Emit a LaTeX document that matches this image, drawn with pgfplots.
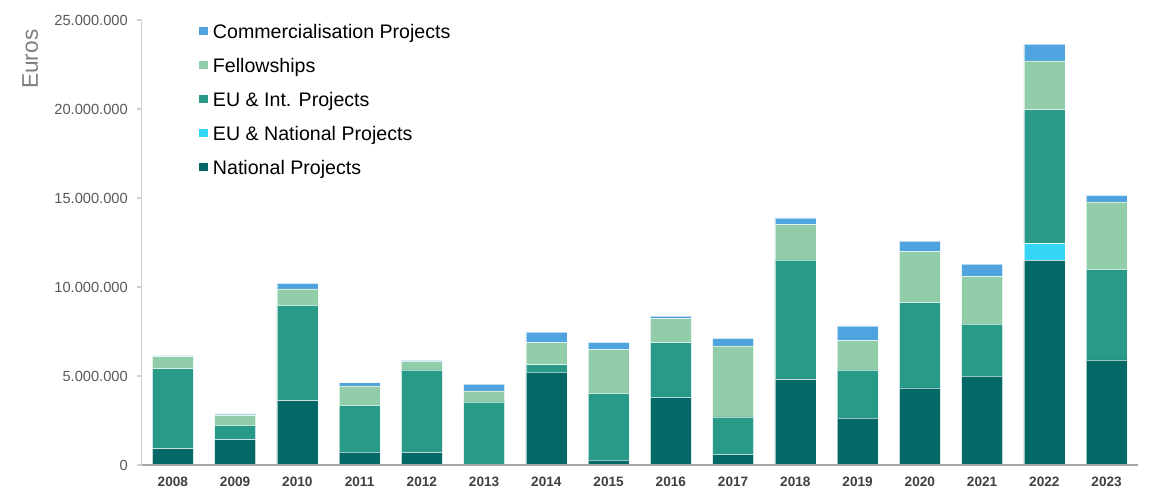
\documentclass[border=0pt]{standalone}
\usepackage{fontspec}
\setmainfont{Liberation Sans}
\usepackage{pgfplots}
\pgfplotsset{compat=1.18}
\usepackage{pgfplotstable}

\definecolor{natc}{HTML}{046866}
\definecolor{eunatc}{HTML}{35D5F5}
\definecolor{euintc}{HTML}{2A9A88}
\definecolor{fellc}{HTML}{92CDA9}
\definecolor{commc}{HTML}{4FA3DE}
\definecolor{ticktext}{HTML}{595959}
\definecolor{yeartext}{HTML}{404040}

% Funding per year (euros), by programme
\pgfplotstableread{
idx year nat      eunat  euint   fell    comm
0   2008 920000   0      4490000 670000  60000
1   2009 1420000  0      810000  540000  100000
2   2010 3610000  0      5360000 920000  320000
3   2011 730000   0      2620000 1090000 180000
4   2012 710000   0      4630000 460000  80000
5   2013 0        0      3540000 620000  390000
6   2014 5220000  0      410000  1240000 590000
7   2015 280000   0      3750000 2470000 390000
8   2016 3800000  0      3070000 1350000 150000
9   2017 600000   0      2100000 3990000 430000
10  2018 4790000  0      6730000 1980000 380000
11  2019 2640000  0      2700000 1640000 830000
12  2020 4330000  0      4790000 2860000 600000
13  2021 5000000  0      2920000 2680000 680000
14  2022 11500000 930000 7530000 2740000 950000
15  2023 5900000  0      5090000 3790000 370000
}\funding

\pgfplotsset{
  sqlegend/.style={legend image code/.code={\fill[##1,draw=none] (0pt,-1pt) rectangle (6.75pt,5pt);}},
  seg/.style={fill=#1, draw=white, draw opacity=0.6, line width=0.5pt, sqlegend},
}

\begin{document}
\begin{tikzpicture}
\useasboundingbox (0,0) rectangle (870.75pt,367.5pt);
\begin{axis}[
  at={(106.3pt,18.75pt)}, anchor=south west,
  scale only axis, width=747pt, height=333.75pt,
  ybar stacked, bar width=30.75pt,
  xmin=-0.5, xmax=15.5, ymin=0, ymax=25000000,
  axis on top,
  axis x line=bottom, axis y line=left,
  axis line style={-},
  x axis line style={draw=black!35, line width=0.8pt},
  y axis line style={draw=black!18, line width=0.8pt},
  xtick=data, xticklabels from table={\funding}{year},
  major x tick style={draw=none},
  xticklabel style={font=\fontsize{10.2}{12}\selectfont\bfseries, text=yeartext, yshift=-2pt},
  ytick={0,5000000,10000000,15000000,20000000,25000000},
  scaled y ticks=false,
  /pgf/number format/fixed,
  /pgf/number format/1000 sep={.},
  /pgf/number format/assume math mode=true,
  tick align=outside,
  major tick length=3.75pt,
  major y tick style={draw=black!18, line width=0.8pt},
  yticklabel style={font=\fontsize{11}{13}\selectfont, text=ticktext, inner sep=0pt, xshift=-6.5pt},
  ylabel={Euros},
  ylabel style={at={(axis description cs:-0.1121,0.912)}, anchor=center,
    font=\fontsize{17}{20}\selectfont, text=black!50},
  reverse legend,
  legend cell align=left,
  legend style={at={(axis description cs:0.0575,0.9905)}, anchor=north west,
    draw=none, fill=none, inner sep=0pt, outer sep=0pt,
    font=\fontsize{14.7}{17}\selectfont,
    row sep=11.5pt, column sep=3.75pt,
    nodes={inner sep=0pt, text height=11pt, text depth=3pt}},
]
\addplot[seg=natc]   table[x=idx, y=nat]   {\funding};
\addplot[seg=eunatc] table[x=idx, y=eunat] {\funding};
\addplot[seg=euintc] table[x=idx, y=euint] {\funding};
\addplot[seg=fellc]  table[x=idx, y=fell]  {\funding};
\addplot[seg=commc]  table[x=idx, y=comm]  {\funding};
\legend{National Projects, EU \& National Projects, EU \& Int. Projects, Fellowships, Commercialisation Projects}
\end{axis}
\end{tikzpicture}
\end{document}
